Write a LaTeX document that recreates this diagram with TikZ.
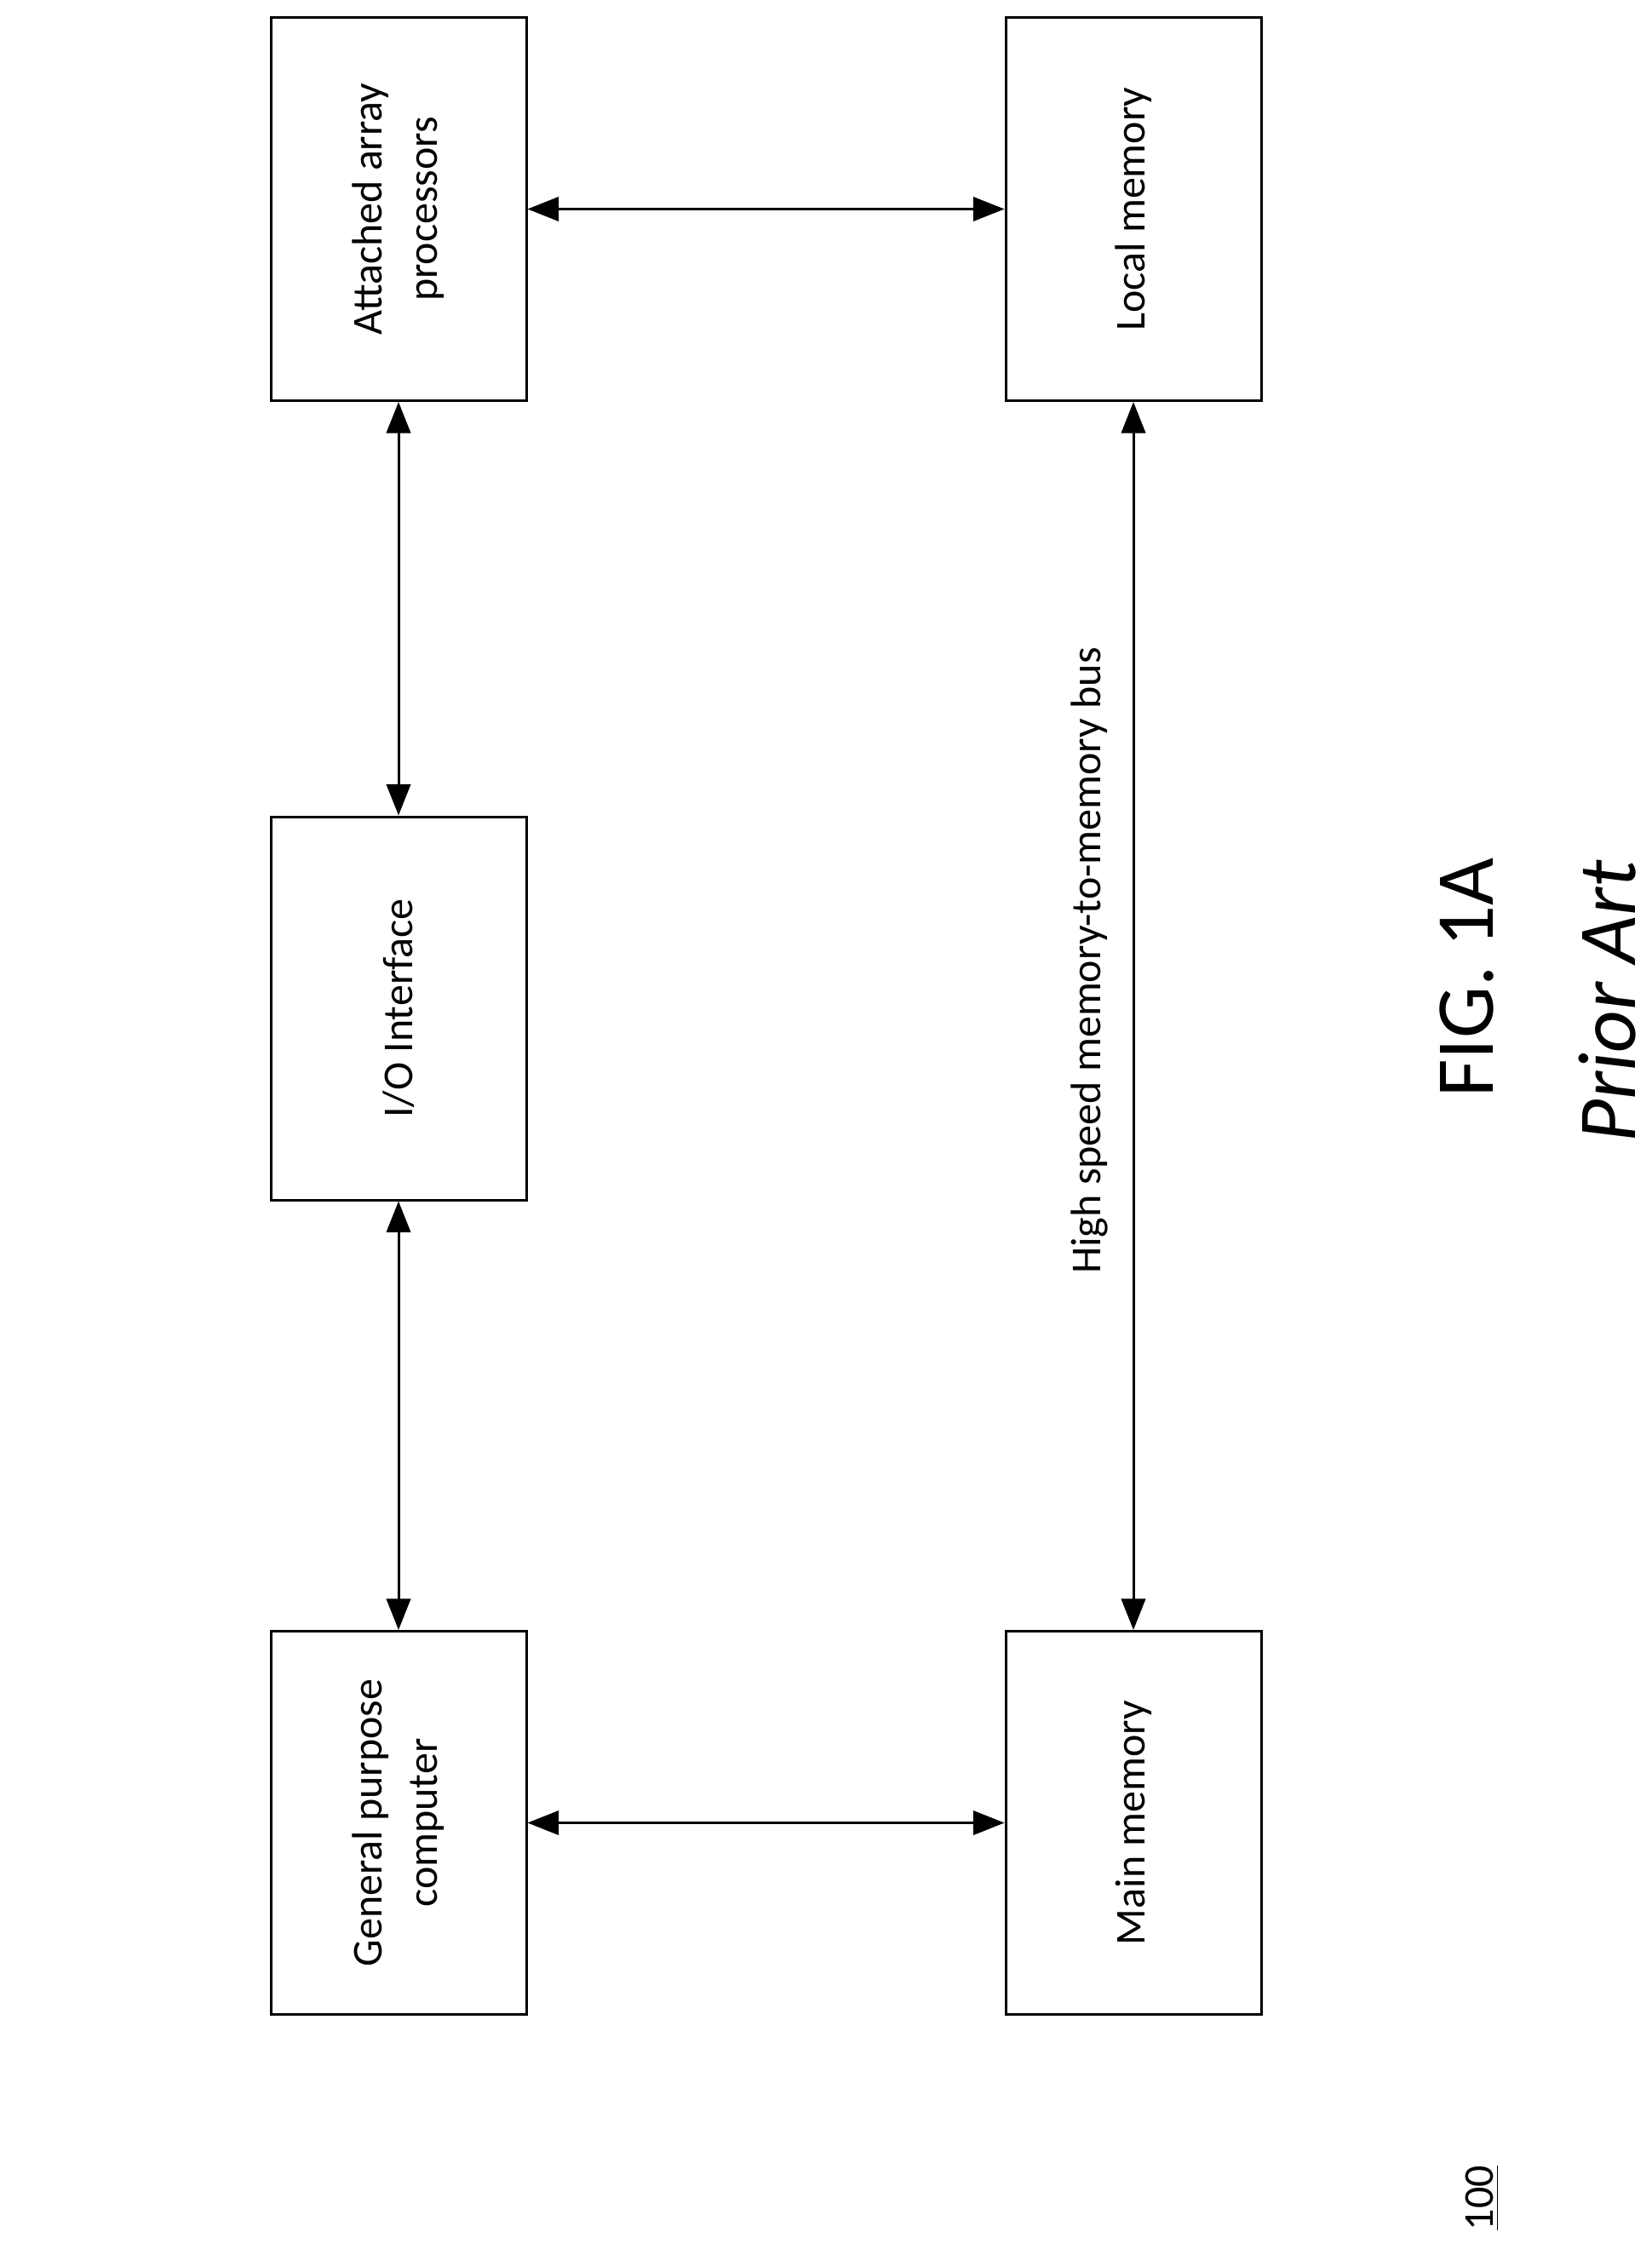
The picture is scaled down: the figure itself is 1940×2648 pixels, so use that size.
\documentclass[tikz,border=0pt]{standalone}
\usepackage{fontspec}
\setmainfont{Carlito}
\usetikzlibrary{arrows.meta}
\begin{document}
\begin{tikzpicture}[x=0.3pt,y=-0.3pt,
  box/.style={draw,line width=0.9pt,minimum width=90pt,minimum height=135pt,inner sep=0pt},
  lbl/.style={rotate=90,align=center,font=\fontsize{15}{19.5}\selectfont},
  conn/.style={line width=0.9pt,{Triangle[length=11pt,width=8.5pt]}-{Triangle[length=11pt,width=8.5pt]}}]
\useasboundingbox (0,0) rectangle (1940,2648);
\node[box] (aap) at (468,245.5) {};
\node[lbl] at (aap) {Attached array\\processors};
\node[box] (lm) at (1331,245.5) {};
\node[lbl] at (lm) {Local memory};
\node[box] (io) at (468,1184) {};
\node[lbl] at (io) {I/O Interface};
\node[box] (gpc) at (468,2140.5) {};
\node[lbl] at (gpc) {General purpose\\computer};
\node[box] (mm) at (1331,2140.5) {};
\node[lbl] at (mm) {Main memory};
\draw[conn] (aap) -- (lm);
\draw[conn] (gpc) -- (mm);
\draw[conn] (aap) -- (io);
\draw[conn] (io) -- (gpc);
\draw[conn] (lm) -- (mm);
\node[lbl] (bus) at (1279,1128) {High speed memory-to-memory bus};
\node[rotate=90,font=\fontsize{29}{34}\selectfont] (fig) at (1722,1148) {FIG. 1A};
\node[rotate=90,font=\fontsize{29}{34}\selectfont\itshape] (pa) at (1888,1176) {Prior Art};
\node[rotate=90,font=\fontsize{15}{18}\selectfont] (ref) at (1741,2581) {\underline{100}};
\end{tikzpicture}
\end{document}
